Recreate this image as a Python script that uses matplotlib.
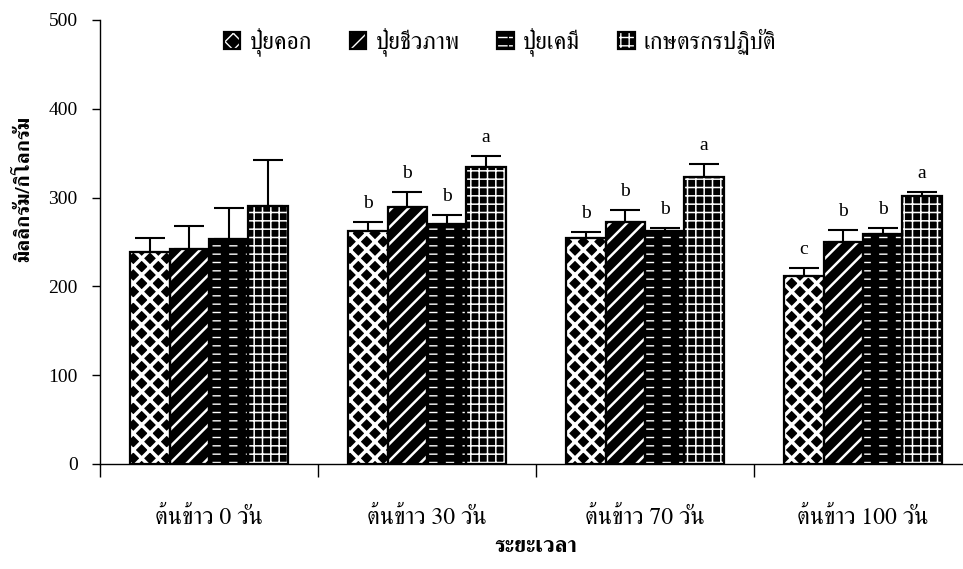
import matplotlib
matplotlib.use('Agg')
import matplotlib.pyplot as plt
import numpy as np
from matplotlib import font_manager
from matplotlib.ft2font import FT2Font
from matplotlib.legend_handler import HandlerTuple


# data
categories = ['ต้นข้าว 0 วัน', 'ต้นข้าว 30 วัน', 'ต้นข้าว 70 วัน', 'ต้นข้าว 100 วัน']
series_names = ['ปุ๋ยคอก', 'ปุ๋ยชีวภาพ', 'ปุ๋ยเคมี', 'เกษตรกรปฏิบัติ']

manure = [239, 262, 255, 212]
bio = [242, 289, 273, 250]
chem = [253, 270, 262, 259]
farmer = [291, 334, 323, 302]

manure_err = [16, 11, 6, 9]
bio_err = [26, 17, 13, 14]
chem_err = [35, 10, 4, 7]
farmer_err = [51, 13, 15, 4]

manure_sig = ['', 'b', 'b', 'c']
bio_sig = ['', 'b', 'b', 'b']
chem_sig = ['', 'b', 'b', 'b']
farmer_sig = ['', 'a', 'a', 'a']

y_ticks = [0, 100, 200, 300, 400, 500]


def find_thai_font():
    ''' first installed family that has Thai glyphs '''
    names = []
    for f in font_manager.fontManager.ttflist:
        try:
            cmap = FT2Font(f.fname).get_charmap()
        except Exception:
            continue
        if 0x0E1B in cmap and 0x0E49 in cmap and 0x0E38 in cmap:
            names.append(f.name)
    names = sorted(set(names), key=lambda n: ('Serif' not in n, n))
    return names[0] if names else 'DejaVu Sans'


THAI = find_thai_font()
SERIF = 'Liberation Serif'
FAMILY = [THAI, SERIF, 'DejaVu Sans']

plt.rcParams['font.family'] = [SERIF, THAI, 'DejaVu Sans']

# pattern layers per series: (face, hatch, hatch color, hatch width)
styles = [
    [('black', 'xx', 'white', 2.5)],
    [('black', '//', 'white', 1.8)],
    [('black', '--', 'white', 1.0), ('none', '|', 'black', 6.0)],
    [('black', '++', 'white', 1.1)],
]

values = [manure, bio, chem, farmer]
errors = [manure_err, bio_err, chem_err, farmer_err]
sigs = [manure_sig, bio_sig, chem_sig, farmer_sig]

fig = plt.figure(figsize=(9.63, 5.69), dpi=100)
ax = fig.add_axes([100 / 963, 105 / 569, 872 / 963, 444 / 569])

x = np.arange(len(categories))
width = 0.181

handles = []
for i in range(len(values)):
    pos = x + (i - 1.5) * width
    parts = []
    for face, hatch, hcolor, hlw in styles[i]:
        with plt.rc_context({'hatch.linewidth': hlw}):
            layer = ax.bar(pos, values[i], width, color=face, edgecolor=hcolor,
                           hatch=hatch, linewidth=0, zorder=2)
            for p in layer:
                if hasattr(p, 'set_hatch_linewidth'):
                    p.set_hatch_linewidth(hlw)
        parts.append(layer[0])
    outline = ax.bar(pos, values[i], width, facecolor='none', edgecolor='black',
                     linewidth=1.6, zorder=3)
    parts.append(outline[0])
    ax.errorbar(pos, values[i], yerr=[np.zeros(len(x)), errors[i]], fmt='none',
                ecolor='black', elinewidth=1.5, capsize=11, capthick=1.5, zorder=4)
    for j in range(len(x)):
        if sigs[i][j]:
            ax.annotate(sigs[i][j], (pos[j], values[i][j] + errors[i][j]),
                        xytext=(0, 10), textcoords='offset points', ha='center',
                        va='baseline', fontsize=14, family=SERIF)
    handles.append(tuple(parts))

ax.set_xlim(-0.5, len(categories) - 0.5)
ax.set_ylim(0, 500)
ax.set_yticks(y_ticks)
ax.tick_params(axis='y', direction='out', length=6, width=1, labelsize=14, pad=10)

# group boundaries carry the ticks, names sit in between
ax.set_xticks(np.arange(len(categories) + 1) - 0.5)
ax.set_xticklabels([])
ax.tick_params(axis='x', which='major', direction='out', length=9, width=1)
ax.set_xticks(x, minor=True)
ax.set_xticklabels(categories, minor=True, family=FAMILY, fontsize=17)
ax.tick_params(axis='x', which='minor', length=0, pad=31)

for s in ['top', 'right']:
    ax.spines[s].set_visible(False)
for s in ['left', 'bottom']:
    ax.spines[s].set_linewidth(1)

ax.set_ylabel('มิลลิกรัม/กิโลกรัม', family=FAMILY, fontsize=15, fontweight='bold')
ax.yaxis.set_label_coords(-67 / 872, (464 - 189) / 444)
ax.set_xlabel('ระยะเวลา', family=FAMILY, fontsize=16, fontweight='bold')
ax.xaxis.set_label_coords(0.5, -72 / 444)

fig.legend(handles, series_names, loc='center', bbox_to_anchor=(500 / 963, 1 - 42 / 569),
           ncol=4, frameon=False, handler_map={tuple: HandlerTuple(ndivide=1, pad=0)},
           handlelength=0.7, handleheight=0.7, handletextpad=0.4, columnspacing=1.6,
           prop={'family': FAMILY, 'size': 17})

fig.savefig('out.png', dpi=100)
